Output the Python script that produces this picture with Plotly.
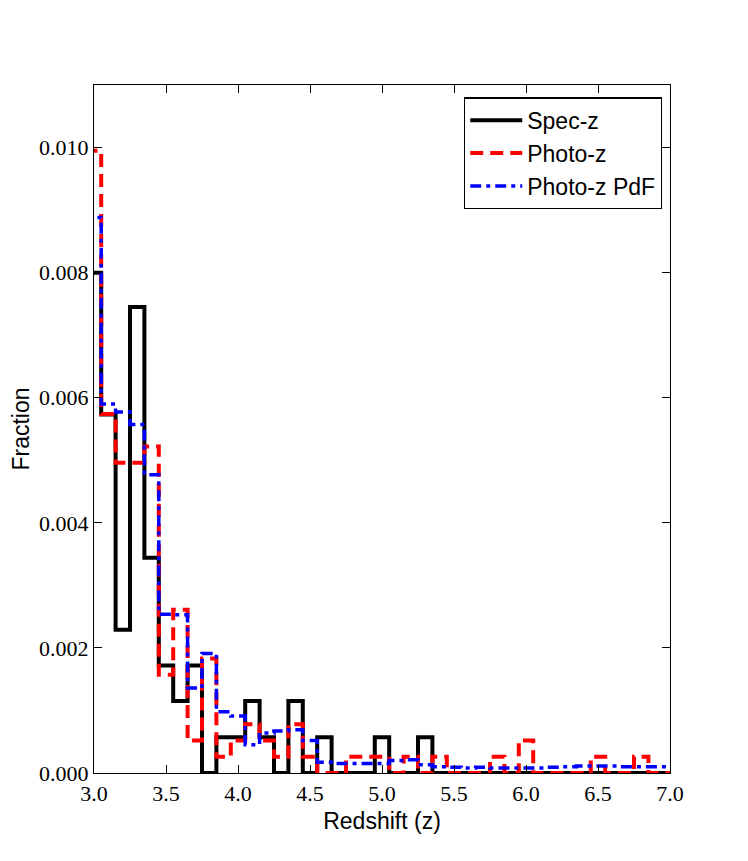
import plotly.graph_objects as go

# Histogram bins (centres) in redshift, bin width 0.1
bin_centers = [3.0, 3.1, 3.2, 3.3, 3.4, 3.5, 3.6, 3.7, 3.8, 3.9,
               4.0, 4.1, 4.2, 4.3, 4.4, 4.5, 4.6, 4.7, 4.8, 4.9,
               5.0, 5.1, 5.2, 5.3, 5.4, 5.5, 5.6, 5.7, 5.8, 5.9,
               6.0, 6.1, 6.2, 6.3, 6.4, 6.5, 6.6, 6.7, 6.8, 6.9, 7.0]
bin_width = 0.1

spec_z = [0.00800, 0.00573, 0.00229, 0.00745, 0.00344, 0.00172, 0.00115, 0.00172, 0.0, 0.00057,
          0.00057, 0.00115, 0.00057, 0.0, 0.00115, 0.0, 0.00057, 0.0, 0.0, 0.0,
          0.00057, 0.0, 0.0, 0.00057, 0.0, 0.0, 0.0, 0.0, 0.0, 0.0,
          0.0, 0.0, 0.0, 0.0, 0.0, 0.0, 0.0, 0.0, 0.0, 0.0, 0.0]

photo_z = [0.00995, 0.00574, 0.00496, 0.00496, 0.00522, 0.00157, 0.00261, 0.00052, 0.00183, 0.00026,
           0.00052, 0.00078, 0.00052, 0.00026, 0.00078, 0.00026, 0.0, 0.0, 0.00026, 0.00026,
           0.00026, 0.0, 0.00026, 0.0, 0.00026, 0.0, 0.0, 0.0, 0.00026, 0.0,
           0.00052, 0.0, 0.0, 0.0, 0.0, 0.00026, 0.0, 0.0, 0.00026, 0.0, 0.0]

photo_z_pdf = [0.00888, 0.00590, 0.00577, 0.00557, 0.00477, 0.00254, 0.00253, 0.00136, 0.00191, 0.00098,
               0.00091, 0.00045, 0.00064, 0.00067, 0.00069, 0.00052, 0.00017, 0.00015, 0.00015, 0.00015,
               0.00015, 0.00020, 0.00021, 0.00013, 0.00010, 0.00009, 0.00008, 0.00009, 0.00008, 0.00008,
               0.00008, 0.00008, 0.00009, 0.00010, 0.00011, 0.00011, 0.00011, 0.00010, 0.00010, 0.00010, 0.00010]

x_ticks = [3.0, 3.5, 4.0, 4.5, 5.0, 5.5, 6.0, 6.5, 7.0]
x_tick_labels = ["3.0", "3.5", "4.0", "4.5", "5.0", "5.5", "6.0", "6.5", "7.0"]
y_ticks = [0.0, 0.002, 0.004, 0.006, 0.008, 0.010]
y_tick_labels = ["0.000", "0.002", "0.004", "0.006", "0.008", "0.010"]


def step_outline(centers, values, width):
    edges = [c - width / 2 for c in centers] + [centers[-1] + width / 2]
    xs = [edges[0]] + edges[:-1] + [edges[-1]]
    ys = [0.0] + list(values) + [0.0]
    return xs, ys


fig = go.Figure()

series = [
    ("Spec-z", spec_z, "black", "solid", 4),
    ("Photo-z", photo_z, "red", "13px,7px", 4),
    ("Photo-z PdF", photo_z_pdf, "blue", "11px,5px,4px,5px", 3.5),
]
for name, vals, color, dash, w in series:
    xs, ys = step_outline(bin_centers, vals, bin_width)
    fig.add_trace(go.Scatter(
        x=xs, y=ys, mode="lines", name=name,
        line=dict(color=color, width=w, dash=dash, shape="hv"),
    ))

axis_common = dict(
    showline=True, linecolor="black", linewidth=1.3, mirror="ticks",
    ticks="inside", ticklen=8, tickwidth=1.3, tickcolor="black",
    showgrid=False, zeroline=False, automargin=False,
    tickfont=dict(family="Liberation Serif", size=22, color="black"),
)

fig.update_layout(
    width=748, height=861,
    margin=dict(l=86, r=86, t=77, b=96),
    paper_bgcolor="white", plot_bgcolor="white",
    showlegend=True,
    legend=dict(
        x=0.986, y=0.982, xanchor="right", yanchor="top",
        bordercolor="black", borderwidth=1.3, bgcolor="white",
        font=dict(family="Liberation Sans", size=23, color="black"),
        itemwidth=52, tracegroupgap=0,
    ),
    xaxis=dict(range=[3.0, 7.0], tickvals=x_ticks, ticktext=x_tick_labels,
               title=dict(text="Redshift (z)", standoff=8,
                          font=dict(family="Liberation Sans", size=23, color="black")),
               **axis_common),
    yaxis=dict(range=[0.0, 0.011], tickvals=y_ticks, ticktext=y_tick_labels,
               title=dict(text="Fraction", standoff=13,
                          font=dict(family="Liberation Sans", size=23, color="black")),
               **axis_common),
)

fig.write_html("out.html")
